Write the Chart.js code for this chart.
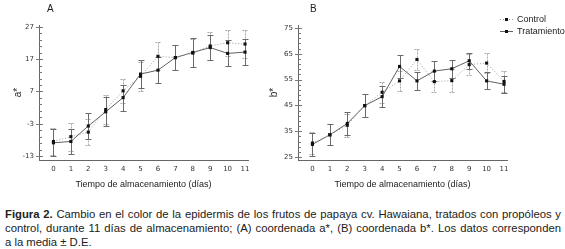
<!DOCTYPE html>
<html>
<head>
<meta charset="utf-8">
<script src="https://cdn.jsdelivr.net/npm/chart.js@4"></script>
<style>
  body { margin: 0; width: 565px; height: 249px; background: #fff; position: relative; overflow: hidden;
         font-family: "Liberation Sans", Arial, sans-serif; color: #222; }
  #boxA { position: absolute; left: 0; top: 0; }
  #boxB { position: absolute; left: 268px; top: 0; }
  .cap { position: absolute; left: 5px; top: 207px; width: 556px; font-size: 11.3px; line-height: 14px; }
  .cap div { white-space: nowrap; }
  .cap .j { text-align: justify; text-align-last: justify; }
</style>
</head>
<body>
<div id="boxA"><canvas id="chartA" width="268" height="200"></canvas></div>
<div id="boxB"><canvas id="chartB" width="297" height="200"></canvas></div>
<div class="cap">
  <div class="j"><b>Figura 2.</b> Cambio en el color de la epidermis de los frutos de papaya cv. Hawaiana, tratados con propóleos y</div>
  <div class="j">control, durante 11 días de almacenamiento; (A) coordenada a*, (B) coordenada b*. Los datos corresponden</div>
  <div>a la media ± D.E.</div>
</div>
<script>
// storage days (x axis)
const days = [0, 1, 2, 3, 4, 5, 6, 7, 8, 9, 10, 11];

// panel A: coordinate a*
const aControl = [-8.5, -7.0, -5.6, 1.4, 7.2, 11.7, 17.9, 17.5, 18.9, 21.1, 22.1, 21.7];
const aControlSD = [4.2, 4.3, 4.0, 4.5, 3.8, 4.5, 4.3, 4.0, 4.4, 4.2, 4.1, 4.3];
const aTrat = [-8.9, -8.5, -3.7, 0.7, 5.1, 12.4, 13.6, 17.5, 19.1, 20.6, 18.8, 19.2];
const aTratSD = [4.2, 3.8, 4.1, 4.5, 4.0, 4.2, 4.0, 4.0, 4.4, 4.0, 4.0, 4.0];

// panel B: coordinate b*
const bControl = [30.4, 33.6, 37.3, 44.9, 50.1, 54.5, 62.8, 54.2, 54.6, 60.8, 61.4, 54.3];
const bControlSD = [4.2, 4.0, 4.5, 4.4, 4.0, 4.0, 4.0, 4.2, 4.4, 4.2, 4.0, 4.0];
const bTrat = [29.9, 33.6, 38.0, 44.9, 48.4, 60.1, 54.5, 58.3, 59.2, 62.3, 54.5, 53.2];
const bTratSD = [4.4, 4.0, 4.6, 4.4, 4.2, 4.5, 3.6, 3.8, 3.5, 3.0, 3.3, 3.3];

// tick labels
const yTicksA = [-13, -3, 7, 17, 27];
const yTicksB = [25, 35, 45, 55, 65, 75];

const seriesNames = ['Control', 'Tratamiento'];

// draws mean +/- SD bars under the lines
const errorBars = {
  id: 'errorBars',
  beforeDatasetsDraw(chart) {
    const ctx = chart.ctx, xs = chart.scales.x, ys = chart.scales.y;
    chart.data.datasets.forEach(ds => {
      ctx.save();
      ctx.strokeStyle = ds.errColor;
      ctx.lineWidth = 1;
      ctx.setLineDash(ds.errDash);
      ds.data.forEach((p, i) => {
        const px = Math.round(xs.getPixelForValue(p.x)) + 0.5;
        const top = Math.round(ys.getPixelForValue(p.y + ds.sd[i])) + 0.5;
        const bot = Math.round(ys.getPixelForValue(p.y - ds.sd[i])) + 0.5;
        ctx.beginPath();
        ctx.moveTo(px, top); ctx.lineTo(px, bot);
        ctx.moveTo(px - 3, top); ctx.lineTo(px + 3, top);
        ctx.moveTo(px - 3, bot); ctx.lineTo(px + 3, bot);
        ctx.stroke();
      });
      ctx.restore();
    });
  }
};

// inner tick marks on the y axis, panel letter and legend
const axisMarks = {
  id: 'axisMarks',
  afterDraw(chart, args, opts) {
    const ctx = chart.ctx, ys = chart.scales.y, left = chart.chartArea.left;
    const first = opts.ticks[0], last = opts.ticks[opts.ticks.length - 1];
    ctx.save();
    ctx.strokeStyle = '#777';
    ctx.lineWidth = 1;
    for (let v = first; v <= last; v += 2) {
      const py = Math.round(ys.getPixelForValue(v)) + 0.5;
      const major = (v - first) % 10 === 0;
      ctx.beginPath();
      ctx.moveTo(left - (major ? 3 : 0), py);
      ctx.lineTo(left + (major ? 4 : 3), py);
      ctx.stroke();
    }
    ctx.fillStyle = '#222';
    ctx.font = '10px "Liberation Sans"';
    ctx.textBaseline = 'middle';
    ctx.fillText(opts.panel, opts.panelX, 9);

    if (opts.legend) {
      const lx = opts.legend.x, rows = [opts.legend.y, opts.legend.y + 12];
      chart.data.datasets.forEach((ds, i) => {
        const ly = rows[i] + 0.5;
        ctx.strokeStyle = ds.borderColor;
        ctx.setLineDash(ds.borderDash || []);
        ctx.beginPath(); ctx.moveTo(lx, ly); ctx.lineTo(lx + 13, ly); ctx.stroke();
        ctx.setLineDash([]);
        ctx.fillStyle = '#111';
        ctx.fillRect(lx + 5, ly - 1.5, 3, 3);
        ctx.fillStyle = '#222';
        ctx.font = '9px "Liberation Sans"';
        ctx.fillText(seriesNames[i], lx + 17, ly);
      });
    }
    ctx.restore();
  }
};

function pairs(values) {
  return values.map((v, i) => ({ x: days[i], y: v }));
}

function makeChart(id, control, controlSD, trat, tratSD, yTicks, yMin, yMax, yTitle, yWidth, yTitlePad, padRight, marks) {
  return new Chart(document.getElementById(id).getContext('2d'), {
    type: 'line',
    data: {
      datasets: [{
        label: seriesNames[0],
        data: pairs(control),
        sd: controlSD,
        borderColor: '#9a9a9a',
        borderDash: [1, 2],
        borderWidth: 1,
        errColor: '#a8a8a8',
        errDash: [2, 1],
        pointStyle: 'rect',
        pointRadius: 2.2,
        pointBackgroundColor: '#111',
        pointBorderColor: '#111',
        pointBorderWidth: 0
      }, {
        label: seriesNames[1],
        data: pairs(trat),
        sd: tratSD,
        borderColor: '#606060',
        borderWidth: 1,
        errColor: '#6a6a6a',
        errDash: [],
        pointStyle: 'rect',
        pointRadius: 2.2,
        pointBackgroundColor: '#111',
        pointBorderColor: '#111',
        pointBorderWidth: 0
      }]
    },
    options: {
      responsive: false,
      animation: false,
      layout: { padding: { left: 0, right: padRight, top: 25, bottom: 0 } },
      plugins: {
        legend: { display: false },
        tooltip: { enabled: false },
        axisMarks: marks
      },
      scales: {
        x: {
          type: 'linear',
          min: -0.83,
          max: 11.17,
          afterBuildTicks: s => { s.ticks = days.map(d => ({ value: d })); },
          afterFit: s => { s.height = 40; },
          grid: { display: false, drawTicks: false },
          border: { color: '#666' },
          ticks: { padding: 5, color: '#333', font: { family: 'DejaVu Sans', size: 7 } },
          title: { display: true, text: 'Tiempo de almacenamiento (días)', color: '#222',
                   padding: { top: 0, bottom: 10 }, font: { family: 'Liberation Sans', size: 9 } }
        },
        y: {
          min: yMin,
          max: yMax,
          afterBuildTicks: s => { s.ticks = yTicks.map(v => ({ value: v })); },
          afterFit: s => { s.width = yWidth; },
          grid: { display: false, drawTicks: false },
          border: { color: '#666' },
          ticks: { padding: 5, color: '#333', font: { family: 'DejaVu Sans', size: 7 } },
          title: { display: true, text: yTitle, color: '#222',
                   padding: { top: yTitlePad, bottom: 0 }, font: { family: 'Liberation Sans', size: 10 } }
        }
      }
    },
    plugins: [errorBars, axisMarks]
  });
}

makeChart('chartA', aControl, aControlSD, aTrat, aTratSD, yTicksA, -14.24, 27.6, 'a*', 39, 12, 20,
  { ticks: yTicksA, panel: 'A', panelX: 47 });

makeChart('chartB', bControl, bControlSD, bTrat, bTratSD, yTicksB, 23.84, 76.16, 'b*', 30, 0, 58,
  { ticks: yTicksB, panel: 'B', panelX: 42, legend: { x: 232, y: 19 } });
</script>
</body>
</html>
